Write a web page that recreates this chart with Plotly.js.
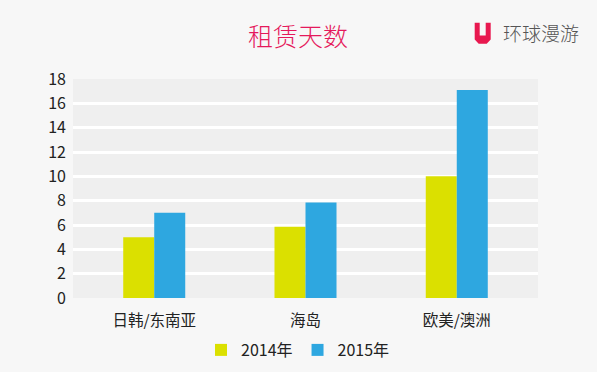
<!DOCTYPE html>
<html>
<head>
<meta charset="utf-8">
<script src="https://cdn.plot.ly/plotly-3.0.1.min.js"></script>
<style>
html,body{margin:0;padding:0;background:#f7f7f7;}
#chart{width:597px;height:372px;}
</style>
</head>
<body>
<div id="chart"></div>
<script>
var categories = ["日韩/东南亚", "海岛", "欧美/澳洲"];
var seriesNames = ["2014年", "2015年"];
var values2014 = [5, 5.85, 10];
var values2015 = [7, 7.85, 17.1];
var yTicks = [0, 2, 4, 6, 8, 10, 12, 14, 16, 18];
var titleText = "租赁天数";
var logoText = "环球漫游";

var W = 597, H = 372;
var M = {l: 73, r: 59, t: 79, b: 74, autoexpand: false};
var pw = W - M.l - M.r, ph = H - M.t - M.b;
function px(x){ return (x - M.l) / pw; }
function py(y){ return (H - M.b - y) / ph; }

var font = '"Noto Sans CJK SC", "Noto Sans", sans-serif';

var uPath = [
  [474.7,22.7],[479.7,22.7],[479.7,35.5],[485.7,35.5],[485.7,22.7],[490.7,22.7],
  [490.7,39.5],[486.7,43.7],[478.7,43.7],[474.7,39.5]
].map(function(p,i){ return (i===0?'M':'L') + px(p[0]).toFixed(5) + ',' + py(p[1]).toFixed(5); }).join(' ') + ' Z';

var traces = [
  {type:'bar', name: seriesNames[0], x: categories, y: values2014,
   marker:{color:'#dbe000', line:{width:0}}},
  {type:'bar', name: seriesNames[1], x: categories, y: values2015,
   marker:{color:'#2ea7e0', line:{width:0}}}
];

var layout = {
  width: W, height: H,
  margin: M,
  paper_bgcolor: '#f7f7f7',
  plot_bgcolor: '#efefef',
  font: {family: font, size: 15, color: '#222'},
  title: {text: titleText, x: 298/W, xref: 'container', xanchor: 'center', y: 1 - 37/H, yref: 'container', yanchor: 'middle',
          font: {family: font, size: 25, color: '#e5195b', weight: 300}},
  barmode: 'group',
  bargap: 0.59,
  bargroupgap: 0,
  showlegend: true,
  legend: {orientation: 'h', x: px(298), xanchor: 'center', y: py(350), yanchor: 'middle',
           font: {family: font, size: 16, color: '#222'}, itemwidth: 30, traceorder: 'normal', bgcolor: 'rgba(0,0,0,0)'},
  xaxis: {range: [-0.537, 2.537], showgrid: false, zeroline: false, showline: false, ticks: '', automargin: false,
          tickfont: {family: font, size: 15.5, color: '#222'}, ticklabelstandoff: 11, fixedrange: true},
  yaxis: {range: [0, 18], tickvals: yTicks, ticktext: yTicks.map(String), showgrid: true, gridcolor: '#ffffff', gridwidth: 3, automargin: false,
          zeroline: false, showline: false, ticks: '', tickfont: {family: font, size: 16, color: '#222'}, ticklabelstandoff: 6, fixedrange: true},
  shapes: [
    {type: 'path', xref: 'paper', yref: 'paper', path: uPath, fillcolor: '#e8184f', line: {width: 0}}
  ],
  annotations: [
    {text: logoText, xref: 'paper', yref: 'paper', x: px(501), y: py(33), xanchor: 'left', yanchor: 'middle',
     showarrow: false, font: {family: font, size: 19, color: '#555', weight: 300}}
  ]
};

Plotly.newPlot('chart', traces, layout, {displayModeBar: false, staticPlot: true});
</script>
</body>
</html>
